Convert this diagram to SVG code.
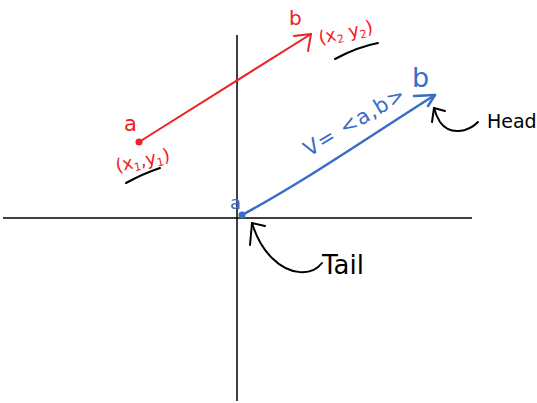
<svg xmlns="http://www.w3.org/2000/svg" width="537" height="403" viewBox="0 0 537 403">
<style>
.axis{stroke:#000;stroke-width:1.5;fill:none}
.red{stroke:#ee2222;stroke-width:2;fill:none;stroke-linecap:round;stroke-linejoin:round}
.blue{stroke:#3a6cc8;stroke-width:2.5;fill:none;stroke-linecap:round;stroke-linejoin:round}
.ink{stroke:#000;stroke-width:2;fill:none;stroke-linecap:round;stroke-linejoin:round}
.tr{fill:#ee2222;font-family:"DejaVu Sans",sans-serif}
.tb{fill:#3a6cc8;font-family:"DejaVu Sans",sans-serif}
.tk{fill:#000;font-family:"DejaVu Sans",sans-serif}
</style>
<rect width="537" height="403" fill="#fff"/>
<g id="axes">
<line class="axis" x1="237" y1="35" x2="237" y2="401"/>
<line class="axis" x1="3" y1="218" x2="472" y2="218"/>
</g>
<g id="connectors">
<g id="red-vector">
<path class="red" d="M139,142 C190,110 250,72 311,34"/>
<path class="red" d="M294,36 L311,34 L308,51"/>
<circle cx="139" cy="142" r="3.5" fill="#ee2222"/>
</g>
<g id="blue-vector">
<path class="blue" d="M242,215 C310,178 370,136 435,95"/>
<path class="blue" d="M414,96 L435,95 L428,106"/>
<circle cx="242" cy="215" r="3.5" fill="#3a6cc8"/>
</g>
<g id="tail-pointer">
<path class="ink" d="M322,263 C312,276 290,276 272,258 C262,248 256,236 252,223"/>
<path class="ink" d="M250,245 L252,223 L265,226"/>
</g>
<g id="head-pointer">
<path class="ink" d="M478,122 C468,132 450,136 440,122 C437,117 435,112 434,108"/>
<path class="ink" d="M432,122 L434,108 L445,111"/>
</g>
<path class="ink" stroke-width="1.5" d="M335,59 C348,52 362,46 378,43"/>
<path class="ink" stroke-width="1.5" d="M126,183 C137,177 148,172 160,168"/>
</g>
<g id="label-a-red"><text class="tr" x="124" y="131" font-size="21">a</text></g>
<g id="label-b-red"><text class="tr" x="289" y="25" font-size="20">b</text></g>
<g id="label-x2y2"><text class="tr" x="320" y="44" font-size="18" transform="rotate(-12 320 44)">(x<tspan font-size="11" dy="3">2</tspan><tspan dy="-3"> y</tspan><tspan font-size="11" dy="3">2</tspan><tspan dy="-3">)</tspan></text></g>
<g id="label-x1y1"><text class="tr" x="117" y="172" font-size="18" transform="rotate(-12 117 172)">(x<tspan font-size="11" dy="3">1</tspan><tspan dy="-3">,y</tspan><tspan font-size="11" dy="3">1</tspan><tspan dy="-3">)</tspan></text></g>
<g id="label-v"><text class="tb" x="309" y="157" font-size="21" letter-spacing="1" transform="rotate(-31 309 157)">V= &lt;a,b&gt;</text></g>
<g id="label-b-blue"><text class="tb" x="412" y="87" font-size="27">b</text></g>
<g id="label-a-blue"><text class="tb" x="230" y="209" font-size="18">a</text></g>
<g id="label-head"><text class="tk" x="487" y="128" font-size="19">Head</text></g>
<g id="label-tail"><text class="tk" x="322" y="274" font-size="26">Tail</text></g>
</svg>
